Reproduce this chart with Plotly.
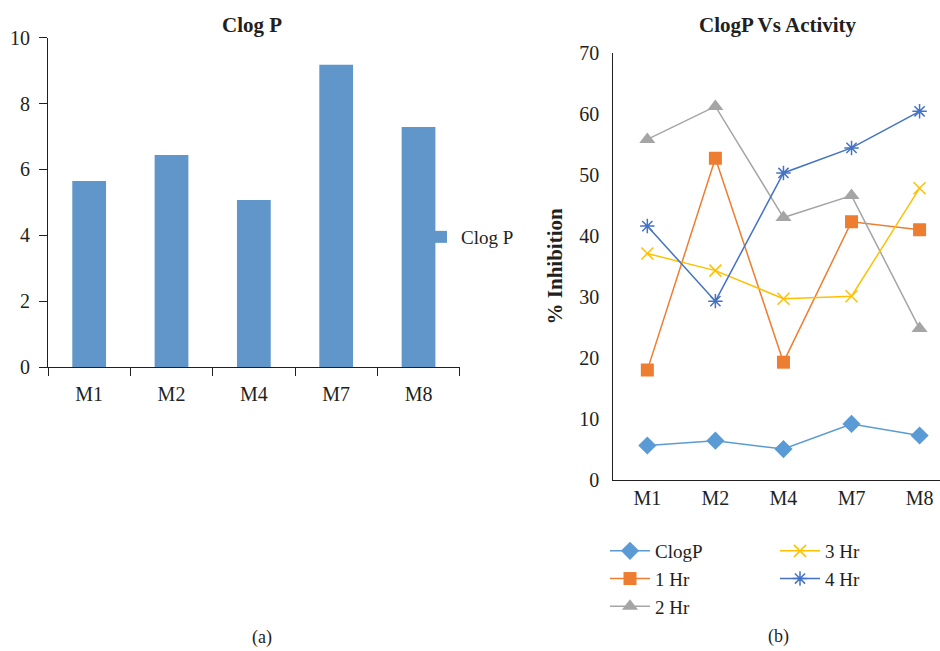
import plotly.graph_objects as go

categories = ["M1", "M2", "M4", "M7", "M8"]
clogp = [5.65, 6.44, 5.07, 9.18, 7.29]
hr1 = [18.0, 52.7, 19.3, 42.3, 41.0]
hr2 = [55.8, 61.2, 43.0, 46.6, 24.8]
hr3 = [37.1, 34.3, 29.7, 30.1, 47.8]
hr4 = [41.6, 29.3, 50.3, 54.4, 60.4]

FONT = "Liberation Serif"
TXT = "#231f20"
W, H = 940, 651

def px_x(x):
    return x / W

def px_y(y):
    return 1 - y / H

fig = go.Figure()

fig.add_trace(go.Bar(x=categories, y=clogp, name="Clog P", marker_color="#6196CA",
                     marker_line_width=0, width=0.41, xaxis="x", yaxis="y",
                     legend="legend", showlegend=True))

series = [
    ("ClogP", clogp, "#5B9BD5", "diamond", 14, "legend2"),
    ("1 Hr", hr1, "#ED7D31", "square", 13, "legend2"),
    ("2 Hr", hr2, "#A5A5A5", "triangle-up", 14, "legend2"),
    ("3 Hr", hr3, "#FFC000", "x-thin", 12, "legend3"),
    ("4 Hr", hr4, "#4472C4", "asterisk", 12, "legend3"),
]
for name, vals, col, sym, size, lg in series:
    thin = sym in ("x-thin", "asterisk")
    fig.add_trace(go.Scatter(
        x=categories, y=vals, name=name, mode="lines+markers",
        line=dict(color=col, width=1.5),
        marker=dict(symbol=sym, size=size, color=col,
                    line=dict(color=col, width=1.5 if thin else 0)),
        xaxis="x2", yaxis="y2", legend=lg, showlegend=True))

axis_common = dict(showline=True, linecolor="#231f20", linewidth=1.2, showgrid=False,
                   zeroline=False, automargin=False,
                   tickfont=dict(family=FONT, size=20, color=TXT))

legend_common = dict(bgcolor="rgba(0,0,0,0)", font=dict(family=FONT, size=19, color=TXT),
                     tracegroupgap=0, borderwidth=0)

fig.update_layout(
    template="none",
    width=W, height=H,
    margin=dict(l=0, r=0, t=0, b=0, pad=0),
    paper_bgcolor="white", plot_bgcolor="white",
    font=dict(family=FONT, size=20, color=TXT),
    showlegend=True,
    xaxis=dict(domain=[px_x(48), px_x(459.7)], anchor="y", type="category",
               ticks="outside", ticklen=8, tickcolor="#231f20", tickwidth=1.2,
               tickson="boundaries", ticklabelstandoff=9, **axis_common),
    yaxis=dict(domain=[px_y(367), px_y(37.7)], anchor="x", range=[0, 10], dtick=2,
               ticks="outside", ticklen=8, tickcolor="#231f20", tickwidth=1.2,
               ticklabelstandoff=5, **axis_common),
    xaxis2=dict(domain=[px_x(613.3), 1.0], anchor="y2", type="category",
                range=[-0.5, 4.30], ticks="", **axis_common),
    yaxis2=dict(domain=[px_y(480), px_y(52.7)], anchor="x2", range=[0, 70], dtick=10,
                ticks="", ticklabelstandoff=9,
                title=dict(text="<b>% Inhibition</b>", standoff=10,
                           font=dict(family=FONT, size=21, color=TXT)),
                **axis_common),
    legend=dict(x=px_x(421), y=px_y(237), xanchor="left", yanchor="middle",
                itemwidth=30, **legend_common),
    legend2=dict(x=px_x(605), y=px_y(532), xanchor="left", yanchor="top",
                 itemwidth=40, **legend_common),
    legend3=dict(x=px_x(775), y=px_y(532), xanchor="left", yanchor="top",
                 itemwidth=40, **legend_common),
    annotations=[
        dict(text="<b>Clog P</b>", x=px_x(252), y=px_y(25), xref="paper", yref="paper",
             xanchor="center", yanchor="middle", showarrow=False,
             font=dict(family=FONT, size=21, color=TXT)),
        dict(text="<b>ClogP Vs Activity</b>", x=px_x(778), y=px_y(25), xref="paper",
             yref="paper", xanchor="center", yanchor="middle", showarrow=False,
             font=dict(family=FONT, size=21, color=TXT)),
        dict(text="(a)", x=px_x(262), y=px_y(637), xref="paper", yref="paper",
             xanchor="center", yanchor="middle", showarrow=False,
             font=dict(family=FONT, size=18, color=TXT)),
        dict(text="(b)", x=px_x(778), y=px_y(636), xref="paper", yref="paper",
             xanchor="center", yanchor="middle", showarrow=False,
             font=dict(family=FONT, size=18, color=TXT)),
    ],
)

fig.write_html("out.html")
